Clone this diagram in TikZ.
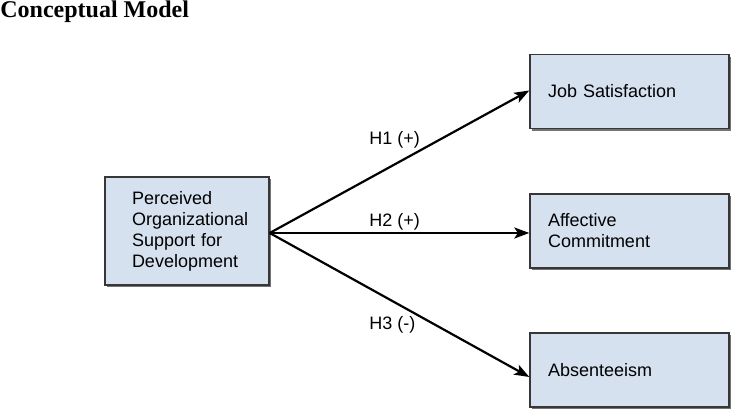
\documentclass[tikz,border=0pt]{standalone}
\usepackage{fontspec}
\setmainfont{Liberation Sans}
\newfontfamily\titlefont{Liberation Serif}
\usepackage{xcolor}
\usetikzlibrary{arrows.meta,shadows}
\definecolor{boxblue}{RGB}{214,225,240}
\definecolor{boxline}{RGB}{55,55,55}

\begin{document}
\begin{tikzpicture}[x=0.5pt,y=-0.5pt,>={Stealth[length=7.5pt,width=5.5pt,inset=1.8pt]},
  font=\fontsize{9}{10.5}\selectfont,
  box/.style={draw=boxline,line width=0.7pt,fill=boxblue,align=left,
    drop shadow={shadow xshift=1.1pt,shadow yshift=-1.1pt,fill=black!55,opacity=1}},
  outbox/.style={box,minimum width=99.5pt,minimum height=37pt,text width=81.5pt},
  hyp/.style={inner sep=0pt,anchor=base west},
  link/.style={->,line width=1.1pt}]
  \useasboundingbox (0,0) rectangle (737,415);
  \node[inner sep=0pt,anchor=base west,font=\titlefont\bfseries\fontsize{12}{14}\selectfont] (title) at (0,18) {Conceptual Model};
  \node[box,minimum width=82pt,minimum height=54pt,text width=55pt] (posd) at (187,231) {Perceived\\Organizational\\Support for\\Development};
  \node[outbox] (js) at (629.5,91.5) {Job Satisfaction};
  \node[outbox] (ac) at (629.5,231) {Affective\\Commitment};
  \node[outbox] (ab) at (629.5,370) {Absenteeism};
  \draw[link] ([yshift=-1pt]posd.east) -- ([yshift=0.5pt]js.west);
  \draw[link] ([yshift=-1pt]posd.east) -- ([yshift=-1pt]ac.west);
  \draw[link] ([yshift=-1pt]posd.east) -- ([yshift=-3.5pt]ab.west);
  \node[hyp] (h1) at (369,145) {H1 (+)};
  \node[hyp] (h2) at (369,227) {H2 (+)};
  \node[hyp] (h3) at (369,330) {H3 (-)};
\end{tikzpicture}
\end{document}
